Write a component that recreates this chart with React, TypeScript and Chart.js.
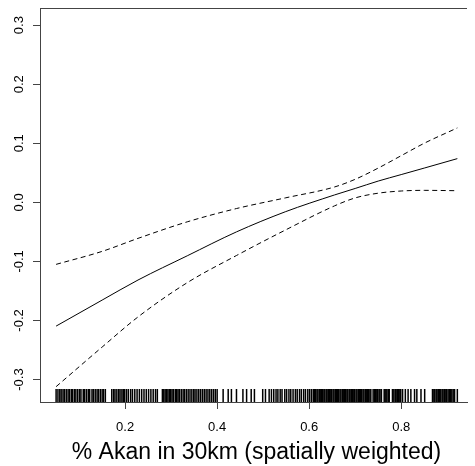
import React, { useEffect, useRef } from "react";
import { Chart, registerables } from "chart.js";

Chart.register(...registerables);

// ---- data ----
const curveX = [0.05, 0.15, 0.228, 0.335, 0.442, 0.548, 0.655, 0.7, 0.75, 0.8, 0.85, 0.922];
const fitY = [-0.2095, -0.1655, -0.1315, -0.0905, -0.05, -0.016, 0.0125, 0.0235, 0.036, 0.047, 0.058, 0.074];
const upperY = [-0.105, -0.083, -0.061, -0.033, -0.0105, 0.0075, 0.026, 0.039, 0.058, 0.079, 0.1, 0.126];
const lowerY = [-0.312, -0.245, -0.194, -0.136, -0.09, -0.047, -0.006, 0.0075, 0.0155, 0.0192, 0.0203, 0.0197];

const rugX = [
  0.05, 0.054, 0.058, 0.061, 0.065, 0.068, 0.072, 0.076, 0.079, 0.083, 0.086, 0.09, 0.093, 0.097,
  0.101, 0.104, 0.109, 0.112, 0.116, 0.12, 0.123, 0.128, 0.131, 0.135, 0.139, 0.142, 0.146, 0.15,
  0.153, 0.157,
  0.171, 0.175, 0.178, 0.182, 0.186, 0.189, 0.193, 0.196, 0.199, 0.203, 0.207, 0.212, 0.216, 0.221,
  0.226, 0.231, 0.236, 0.241, 0.246, 0.251, 0.256, 0.261, 0.266, 0.27,
  0.281, 0.284, 0.287, 0.29, 0.293, 0.296, 0.299, 0.302, 0.305, 0.309, 0.312, 0.315, 0.318, 0.322,
  0.326, 0.329, 0.333, 0.337, 0.341, 0.345, 0.349, 0.352, 0.356, 0.36, 0.364, 0.368, 0.372, 0.376,
  0.38, 0.384, 0.388, 0.392, 0.396, 0.4,
  0.413, 0.424, 0.431, 0.442, 0.456, 0.464, 0.474, 0.481, 0.499, 0.505, 0.513,
  0.518, 0.523, 0.528, 0.532, 0.537, 0.541, 0.547, 0.551, 0.556, 0.56, 0.565, 0.57, 0.574, 0.579,
  0.583, 0.588, 0.592, 0.597, 0.601, 0.605, 0.609,
  0.612, 0.614, 0.617, 0.619, 0.622, 0.624, 0.627, 0.629, 0.632, 0.634, 0.637, 0.639, 0.642, 0.644,
  0.647, 0.649, 0.652, 0.654, 0.657, 0.659, 0.662, 0.664, 0.667, 0.669, 0.672, 0.674, 0.677, 0.679,
  0.682, 0.684, 0.687, 0.689, 0.692, 0.694, 0.697, 0.699, 0.702, 0.704, 0.707, 0.709, 0.712, 0.714,
  0.717, 0.719, 0.722, 0.724, 0.727, 0.729, 0.732, 0.734, 0.739, 0.742, 0.744, 0.747, 0.749, 0.752,
  0.754, 0.757, 0.763, 0.765, 0.767, 0.769, 0.772, 0.774, 0.781, 0.784, 0.787, 0.789, 0.792, 0.794,
  0.797, 0.799,
  0.803, 0.809, 0.815, 0.821, 0.829, 0.834, 0.843, 0.851,
  0.868, 0.871, 0.873, 0.876, 0.878, 0.881, 0.883, 0.886, 0.889, 0.891, 0.894, 0.897, 0.899, 0.902,
  0.905, 0.907, 0.91, 0.913, 0.916, 0.922,
];

const xTicks = [0.2, 0.4, 0.6, 0.8];
const yTicks = [-0.3, -0.2, -0.1, 0.0, 0.1, 0.2, 0.3];
const xLabel = "% Akan in 30km (spatially weighted)";

const FONT = '"Liberation Sans", Arial, Helvetica, sans-serif';
const AXIS_COLOR = "#444";
const RUG_LEVEL = -0.327;

const rPlotPlugin = {
  id: "rPlot",
  afterDraw(chart: any) {
    const { ctx, chartArea, scales } = chart;
    ctx.save();
    // top frame line
    ctx.strokeStyle = AXIS_COLOR;
    ctx.lineWidth = 1;
    ctx.beginPath();
    ctx.moveTo(chartArea.left, Math.round(chartArea.top) + 0.5);
    ctx.lineTo(chartArea.right, Math.round(chartArea.top) + 0.5);
    ctx.stroke();
    // rotated y tick labels
    ctx.fillStyle = "#000";
    ctx.font = `13px ${FONT}`;
    ctx.textAlign = "center";
    ctx.textBaseline = "alphabetic";
    yTicks.forEach((v) => {
      const y = scales.y.getPixelForValue(v);
      ctx.save();
      ctx.translate(chartArea.left - 16.7, y);
      ctx.rotate(-Math.PI / 2);
      ctx.fillText(v.toFixed(1), 0, 0);
      ctx.restore();
    });
    // x axis title
    ctx.font = `23px ${FONT}`;
    ctx.textAlign = "center";
    ctx.textBaseline = "alphabetic";
    ctx.fillText(xLabel, (chartArea.left + chartArea.right) / 2 + 3, chartArea.bottom + 56.5);
    ctx.restore();
  },
};

export default function App() {
  const canvasRef = useRef<HTMLCanvasElement | null>(null);

  useEffect(() => {
    document.body.style.margin = "0";
    const canvas = canvasRef.current;
    if (!canvas) return;
    const line = (ys: number[], dash: number[]) => ({
      type: "line" as const,
      data: curveX.map((x, i) => ({ x, y: ys[i] })),
      borderColor: "#000",
      borderWidth: 1,
      borderDash: dash,
      pointRadius: 0,
      fill: false,
      cubicInterpolationMode: "monotone" as const,
      showLine: true,
    });
    const chart = new Chart(canvas, {
      type: "scatter",
      data: {
        datasets: [
          line(fitY, []),
          line(upperY, [5, 3.5]),
          line(lowerY, [5, 3.5]),
          {
            type: "scatter",
            data: rugX.map((x) => ({ x, y: RUG_LEVEL })),
            pointStyle: "line",
            rotation: 90,
            pointRadius: 6.5,
            pointHoverRadius: 6.5,
            borderWidth: 1.5,
            borderColor: "#000",
            backgroundColor: "#000",
            showLine: false,
          } as any,
        ],
      },
      plugins: [rPlotPlugin],
      options: {
        animation: false,
        responsive: true,
        maintainAspectRatio: false,
        layout: { padding: { top: 5, left: 0, right: 0, bottom: 0 } },
        plugins: { legend: { display: false }, tooltip: { enabled: false } },
        events: [],
        scales: {
          x: {
            type: "linear",
            min: 0.015,
            max: 0.943,
            afterBuildTicks: (s: any) => {
              s.ticks = xTicks.map((v) => ({ value: v }));
            },
            afterFit: (s: any) => {
              s.height = 64;
            },
            grid: { drawOnChartArea: false, drawTicks: true, tickLength: 7, color: AXIS_COLOR, lineWidth: 1 },
            border: { display: true, color: AXIS_COLOR, width: 1 },
            ticks: {
              padding: 11,
              color: "#000",
              font: { family: FONT, size: 13 },
              maxRotation: 0,
              minRotation: 0,
              autoSkip: false,
              callback: (v: any) => Number(v).toFixed(1),
            },
          },
          y: {
            type: "linear",
            min: -0.338,
            max: 0.329,
            afterBuildTicks: (s: any) => {
              s.ticks = yTicks.map((v) => ({ value: v }));
            },
            afterFit: (s: any) => {
              s.width = 40;
            },
            grid: { drawOnChartArea: false, drawTicks: true, tickLength: 7, color: AXIS_COLOR, lineWidth: 1 },
            border: { display: true, color: AXIS_COLOR, width: 1 },
            ticks: { display: false },
          },
        },
      } as any,
    });
    return () => chart.destroy();
  }, []);

  return (
    <div style={{ position: "fixed", left: 0, top: 0, width: 475, height: 466, background: "#fff" }}>
      <canvas ref={canvasRef} />
    </div>
  );
}
